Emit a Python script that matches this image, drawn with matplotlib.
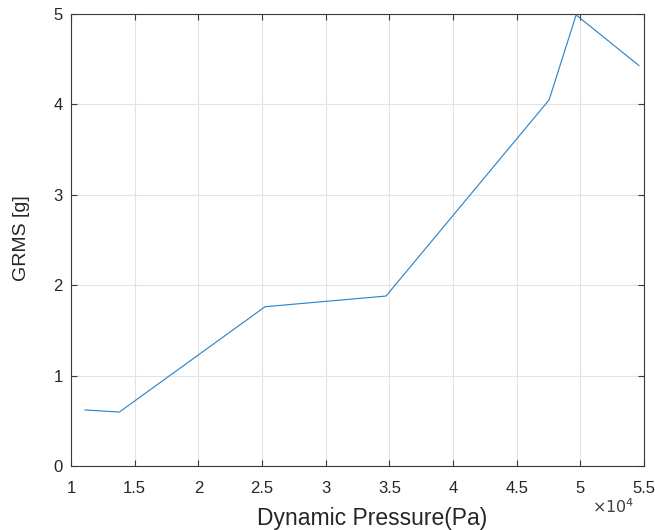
import matplotlib
matplotlib.use("Agg")
import matplotlib.pyplot as plt
import numpy as np

# ----------------------------------------------------------------- data
pressure = [1.11, 1.38, 2.524, 3.474, 4.755, 4.967, 5.46]  # x 1e4 Pa
grms = [0.62, 0.597, 1.762, 1.88, 4.05, 4.99, 4.43]
x_ticks = [1, 1.5, 2, 2.5, 3, 3.5, 4, 4.5, 5, 5.5]
x_tick_labels = ["1", "1.5", "2", "2.5", "3", "3.5", "4", "4.5", "5", "5.5"]
y_ticks = [0, 1, 2, 3, 4, 5]

plt.rcParams["font.family"] = ["Liberation Sans", "DejaVu Sans"]

W, H = 655, 530
fig = plt.figure(figsize=(W / 100, H / 100), dpi=100)
ax = fig.add_axes([71 / W, 1 - 466 / H, 573 / W, 452 / H])

ax.plot(pressure, grms, color="#2f87cc", lw=0.85, zorder=3)

ax.set_xlim(1, 5.5)
ax.set_ylim(0, 5)
ax.set_xticks(x_ticks)
ax.set_xticklabels(x_tick_labels)
ax.set_yticks(y_ticks)

ax.grid(True, color="#e3e3e3", lw=0.8)
ax.set_axisbelow(True)
for s in ax.spines.values():
    s.set_color("#3a3a3a")
    s.set_linewidth(0.8)
ax.tick_params(direction="in", top=True, right=True, length=4, width=0.8,
               color="#3a3a3a", labelsize=12, labelcolor="#262626")
ax.tick_params(axis="x", pad=10.5)
ax.tick_params(axis="y", pad=6)

# axis labels placed in pixel terms to match the reference layout
fig.text(372 / W, 1 - 525 / H, "Dynamic Pressure(Pa)", ha="center",
         va="baseline", fontsize=16.5, color="#262626")
fig.text(21 / W, 1 - 238 / H, "GRMS [g]", ha="center", va="center",
         rotation=90, fontsize=14, color="#262626")

# exponent note like MATLAB
fig.text(634 / W, 1 - 507 / H, r"$\times10^{4}$", ha="right", va="center",
         fontsize=11.5, color="#404040", math_fontfamily="dejavusans")

fig.savefig("out.png", dpi=100)
